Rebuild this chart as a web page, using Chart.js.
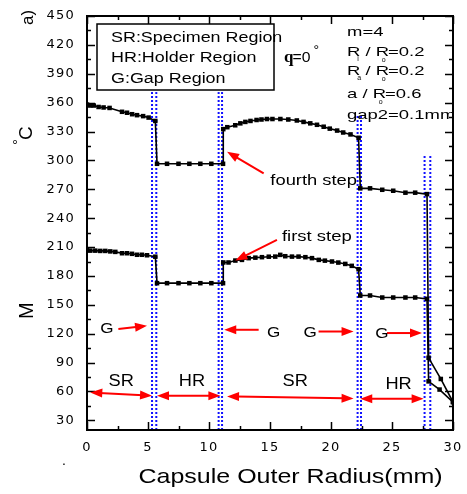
<!DOCTYPE html>
<html>
<head>
<meta charset="utf-8">
<script src="https://cdn.jsdelivr.net/npm/chart.js@4.4.0/dist/chart.umd.min.js"></script>
<style>
  body { margin: 0; background: #fff; }
  canvas { display: block; }
</style>
</head>
<body>
<canvas id="grafico" width="467" height="494"></canvas>
<script>
// fourth step curve (radius mm, temperature)
const radioCuarto = [0, 0.27, 0.55, 0.95, 1.36, 1.85, 2.87, 3.28, 3.7, 4.1, 4.6, 5.05, 5.6,
  5.74, 6.56, 7.5, 8.39, 9.29, 10.19, 11.15,
  11.17, 11.5, 12.15, 12.57, 12.98, 13.4, 13.9, 14.3, 14.75, 15.2, 15.85, 16.5, 17.2, 17.75, 18.3, 18.85, 19.4, 19.9, 20.5, 21.0, 21.6, 22.26,
  22.4, 23.2, 24.2, 25.1, 26.1, 26.9, 27.87,
  28.0, 29.0, 30.0];
const tempCuarto = [358, 357, 357, 355.5, 355, 354.5, 350.5, 349.5, 348, 347, 346, 344.5, 341,
  296.5, 296.5, 296.5, 296.5, 296.5, 296.5, 296.5,
  332.5, 334.5, 336.5, 338.5, 340, 341, 342, 342.5, 343, 343, 343, 342.5, 341.5, 340, 338.5, 337, 335, 333, 331, 329, 327, 323.5,
  271, 271, 269.5, 268.5, 266.5, 266.5, 265,
  95, 73, 49];

// first step curve
const radioPrimero = [0, 0.27, 0.68, 1.09, 1.5, 1.91, 2.32, 2.87, 3.28, 3.69, 4.1, 4.5, 4.92, 5.6,
  5.74, 6.56, 7.5, 8.39, 9.29, 10.19, 11.15,
  11.17, 11.6, 12.16, 12.7, 13.25, 13.8, 14.34, 14.9, 15.43, 15.84, 16.25, 16.8, 17.34, 17.9, 18.44, 19.0, 19.5, 20.08, 20.6, 21.17, 21.7, 22.26,
  22.4, 23.2, 24.2, 25.1, 26.1, 26.9, 27.87,
  28.0, 28.9, 30.0];
const tempPrimero = [207, 206.3, 206.3, 206, 206, 205.5, 205, 203.6, 203.6, 203, 202, 202, 201.5, 200,
  172.5, 172.5, 172.5, 172.5, 172.5, 172.5, 172.5,
  194, 194, 196, 196.7, 198.5, 199, 199.5, 200, 200.1, 201.9, 200.5, 200.1, 200.1, 199.5, 198.5, 196.7, 195.9, 195, 193.9, 192.5, 190.5, 187,
  159.7, 159.7, 157.6, 157.6, 157.6, 157.6, 156.2,
  70.5, 62, 49];

const xTicks = [0, 5, 10, 15, 20, 25, 30];
const yTicks = [30, 60, 90, 120, 150, 180, 210, 240, 270, 300, 330, 360, 390, 420, 450];

// region borders (dotted blue lines): x and top of line
const bordesX = [5.33, 5.68, 10.79, 11.07, 22.18, 22.46, 27.67, 28.14];
const bordesTop = [371, 371, 371, 371, 347, 347, 306, 306];

// annotations, in data units
const flechasG = [[2.57, 124.8, 4.92, 128.2], [14.07, 124.1, 11.25, 124.1], [18.98, 122.3, 21.85, 122.3], [24.59, 120.7, 27.46, 120.7]];
const textosG = [[1.64, 120.7], [15.3, 117.1], [18.3, 117.1], [24.18, 115.5]];
const flechasZona = [[0.27, 59, 5.33, 55.6], [5.74, 55.6, 10.93, 55.6], [11.48, 54.9, 21.85, 52.8], [22.4, 52.5, 27.59, 52.5]];
const textosZona = [['SR', 2.8, 65.3], ['HR', 8.6, 65.3], ['SR', 17.07, 65.3], ['HR', 25.54, 62.9]];

const FONT = "'Liberation Sans', Arial, sans-serif";

function puntos(xs, ys) {
  return xs.map((x, i) => ({ x: x, y: ys[i] }));
}

const datasets = [
  { data: puntos(radioCuarto, tempCuarto) },
  { data: puntos(radioPrimero, tempPrimero) }
].map(d => Object.assign(d, {
  borderColor: '#000', borderWidth: 1.6, pointStyle: 'rect', pointRadius: 3.2,
  pointBackgroundColor: '#000', pointBorderWidth: 0, tension: 0
}));

bordesX.forEach((bx, i) => {
  datasets.push({
    data: [{ x: bx, y: 20 }, { x: bx, y: bordesTop[i] }],
    borderColor: '#1010ff', borderWidth: 2, borderDash: [2, 2], pointRadius: 0
  });
});

// text stretched horizontally by sx, like the original figure
function texto(ctx, s, x, y, size, sx, align, family, weight) {
  ctx.save();
  ctx.font = (weight || '') + ' ' + size + 'px ' + (family || FONT);
  ctx.letterSpacing = '0px';
  const w = ctx.measureText(s).width * sx;
  const x0 = align === 'center' ? x - w / 2 : x;
  ctx.translate(x0, y);
  ctx.scale(sx, 1);
  ctx.textAlign = 'left';
  ctx.textBaseline = 'alphabetic';
  ctx.fillStyle = '#000';
  ctx.fillText(s, 0, 0);
  ctx.restore();
  return w;
}

function punta(ctx, x, y, ang) {
  const L = 12, W = 4.5;
  ctx.beginPath();
  ctx.moveTo(x, y);
  ctx.lineTo(x - L * Math.cos(ang) + W * Math.sin(ang), y - L * Math.sin(ang) - W * Math.cos(ang));
  ctx.lineTo(x - L * Math.cos(ang) - W * Math.sin(ang), y - L * Math.sin(ang) + W * Math.cos(ang));
  ctx.closePath();
  ctx.fill();
}

function flecha(ctx, x1, y1, x2, y2, doble) {
  const ang = Math.atan2(y2 - y1, x2 - x1);
  const c = Math.cos(ang) * 9, s = Math.sin(ang) * 9;
  ctx.save();
  ctx.strokeStyle = '#ff0000';
  ctx.fillStyle = '#ff0000';
  ctx.lineWidth = 2;
  ctx.beginPath();
  ctx.moveTo(doble ? x1 + c : x1, doble ? y1 + s : y1);
  ctx.lineTo(x2 - c, y2 - s);
  ctx.stroke();
  punta(ctx, x2, y2, ang);
  if (doble) punta(ctx, x1, y1, ang + Math.PI);
  ctx.restore();
}

function rotado(ctx, x, y, fn) {
  ctx.save();
  ctx.translate(x, y);
  ctx.rotate(-Math.PI / 2);
  fn();
  ctx.restore();
}

const marco = {
  id: 'marco',
  beforeDraw(chart) {
    chart.ctx.letterSpacing = '1.2px';
  },
  beforeDatasetsDraw(chart) {
    chart.ctx.letterSpacing = '0px';
  },
  afterDraw(chart) {
    const ctx = chart.ctx;
    const a = chart.chartArea;
    const sx = chart.scales.x, sy = chart.scales.y;
    const X = v => sx.getPixelForValue(v);
    const Y = v => sy.getPixelForValue(v);

    // frame and inward ticks
    ctx.save();
    ctx.strokeStyle = '#000';
    ctx.lineWidth = 1.5;
    ctx.beginPath();
    for (let v = 0; v <= 30; v += 2.5) {
      const len = v % 5 === 0 ? 8 : 4;
      const px = Math.round(X(v)) + 0.5;
      ctx.moveTo(px, a.bottom); ctx.lineTo(px, a.bottom - len);
      ctx.moveTo(px, a.top); ctx.lineTo(px, a.top + len);
    }
    for (let v = 30; v <= 450; v += 15) {
      const len = v % 30 === 0 ? 8 : 4;
      const py = Math.round(Y(v)) + 0.5;
      ctx.moveTo(a.left, py); ctx.lineTo(a.left + len, py);
      ctx.moveTo(a.right, py); ctx.lineTo(a.right - len, py);
    }
    ctx.stroke();
    ctx.lineWidth = 2;
    ctx.strokeRect(a.left, a.top, a.right - a.left, a.bottom - a.top);
    ctx.restore();

    // legend box
    ctx.save();
    ctx.fillStyle = '#fff';
    ctx.fillRect(97, 24, 177, 66);
    ctx.strokeStyle = '#000';
    ctx.lineWidth = 1.5;
    ctx.strokeRect(97, 24, 177, 66);
    ctx.restore();
    texto(ctx, 'SR:Specimen Region', 111, 42, 14, 1.28);
    texto(ctx, 'HR:Holder Region', 111, 62, 14, 1.28);
    texto(ctx, 'G:Gap Region', 111, 83, 14, 1.28);

    texto(ctx, 'q', 284, 61.7, 17, 1, 'left', "'Liberation Serif', serif", 'bold');
    texto(ctx, '=0', 292.5, 61.7, 15, 1.05);
    texto(ctx, '°', 313.5, 55, 14, 1);

    // parameters block (clipped by the frame)
    ctx.save();
    ctx.beginPath();
    ctx.rect(a.left, a.top, a.right - a.left, a.bottom - a.top);
    ctx.clip();
    const px0 = 347, k = 1.42;
    texto(ctx, 'm=4', px0, 36, 13, k);
    const fila = (pre, sub, valor, base) => {
      let x = px0;
      if (pre === 'R') {
        const w = texto(ctx, 'R', x, base, 13, k);
        texto(ctx, sub, x + w - 3, base + 5, 7, 1);
        x += w;
        x += texto(ctx, ' / ', x, base, 13, k);
      } else {
        x += texto(ctx, 'a / ', x, base, 13, k);
      }
      const wr = texto(ctx, 'R', x, base, 13, k);
      texto(ctx, 'o', x + 6, base + 6, 7, 1);
      texto(ctx, valor, x + wr - 1, base, 13, k);
    };
    fila('R', 'i', '=0.2', 56);
    fila('R', 'a', '=0.2', 75);
    fila('a', '', '=0.6', 98);
    texto(ctx, 'gap2=0.1mm', px0, 119, 13, k);
    ctx.restore();

    // arrows and labels inside the plot
    flecha(ctx, X(14.48), Y(286.6), X(11.48), Y(309), false);
    flecha(ctx, X(15.57), Y(217.4), X(12.16), Y(196), false);
    texto(ctx, 'fourth step', X(15.03), Y(274.5), 14, 1.31);
    texto(ctx, 'first step', X(15.98), Y(216.4), 14, 1.32);
    flechasG.forEach(f => flecha(ctx, X(f[0]), Y(f[1]), X(f[2]), Y(f[3]), false));
    textosG.forEach(t => texto(ctx, 'G', X(t[0]), Y(t[1]), 15, 1.14, 'center'));
    flechasZona.forEach(f => flecha(ctx, X(f[0]), Y(f[1]), X(f[2]), Y(f[3]), true));
    textosZona.forEach(t => texto(ctx, t[0], X(t[1]), Y(t[2]), 16, 1.14, 'center'));

    // axis titles and loose marks
    rotado(ctx, 33, 25, () => texto(ctx, 'a)', 0, 0, 17, 1));
    rotado(ctx, 32, 145, () => {
      texto(ctx, '°', 0, -9, 15, 1);
      texto(ctx, 'C', 5, 0, 19, 1);
    });
    rotado(ctx, 33, 319, () => texto(ctx, 'M', 0, 0, 20, 1));
    texto(ctx, '.', 62, 465, 14, 1);
    texto(ctx, 'Capsule Outer Radius(mm)', 138.5, 483, 21, 1.19);
  }
};

const ctx = document.getElementById('grafico');
const grafico = new Chart(ctx, {
  type: 'line',
  data: { datasets: datasets },
  options: {
    responsive: false,
    animation: false,
    devicePixelRatio: 1,
    layout: { padding: { left: 0, right: 14, top: 16, bottom: 0 } },
    plugins: { legend: { display: false }, tooltip: { enabled: false } },
    scales: {
      x: {
        type: 'linear', min: 0, max: 30,
        grid: { display: false }, border: { display: false },
        afterBuildTicks: s => { s.ticks = xTicks.map(v => ({ value: v })); },
        afterFit: s => { s.height = 64; },
        ticks: { color: '#000', padding: 2, maxRotation: 0, font: { family: "'DejaVu Sans'", size: 13 } }
      },
      y: {
        type: 'linear', min: 20, max: 450,
        grid: { display: false }, border: { display: false },
        afterBuildTicks: s => { s.ticks = yTicks.map(v => ({ value: v })); },
        afterFit: s => { s.width = 87; },
        ticks: { color: '#000', padding: 4, font: { family: "'DejaVu Sans'", size: 13 } }
      }
    }
  },
  plugins: [marco]
});
</script>
</body>
</html>
